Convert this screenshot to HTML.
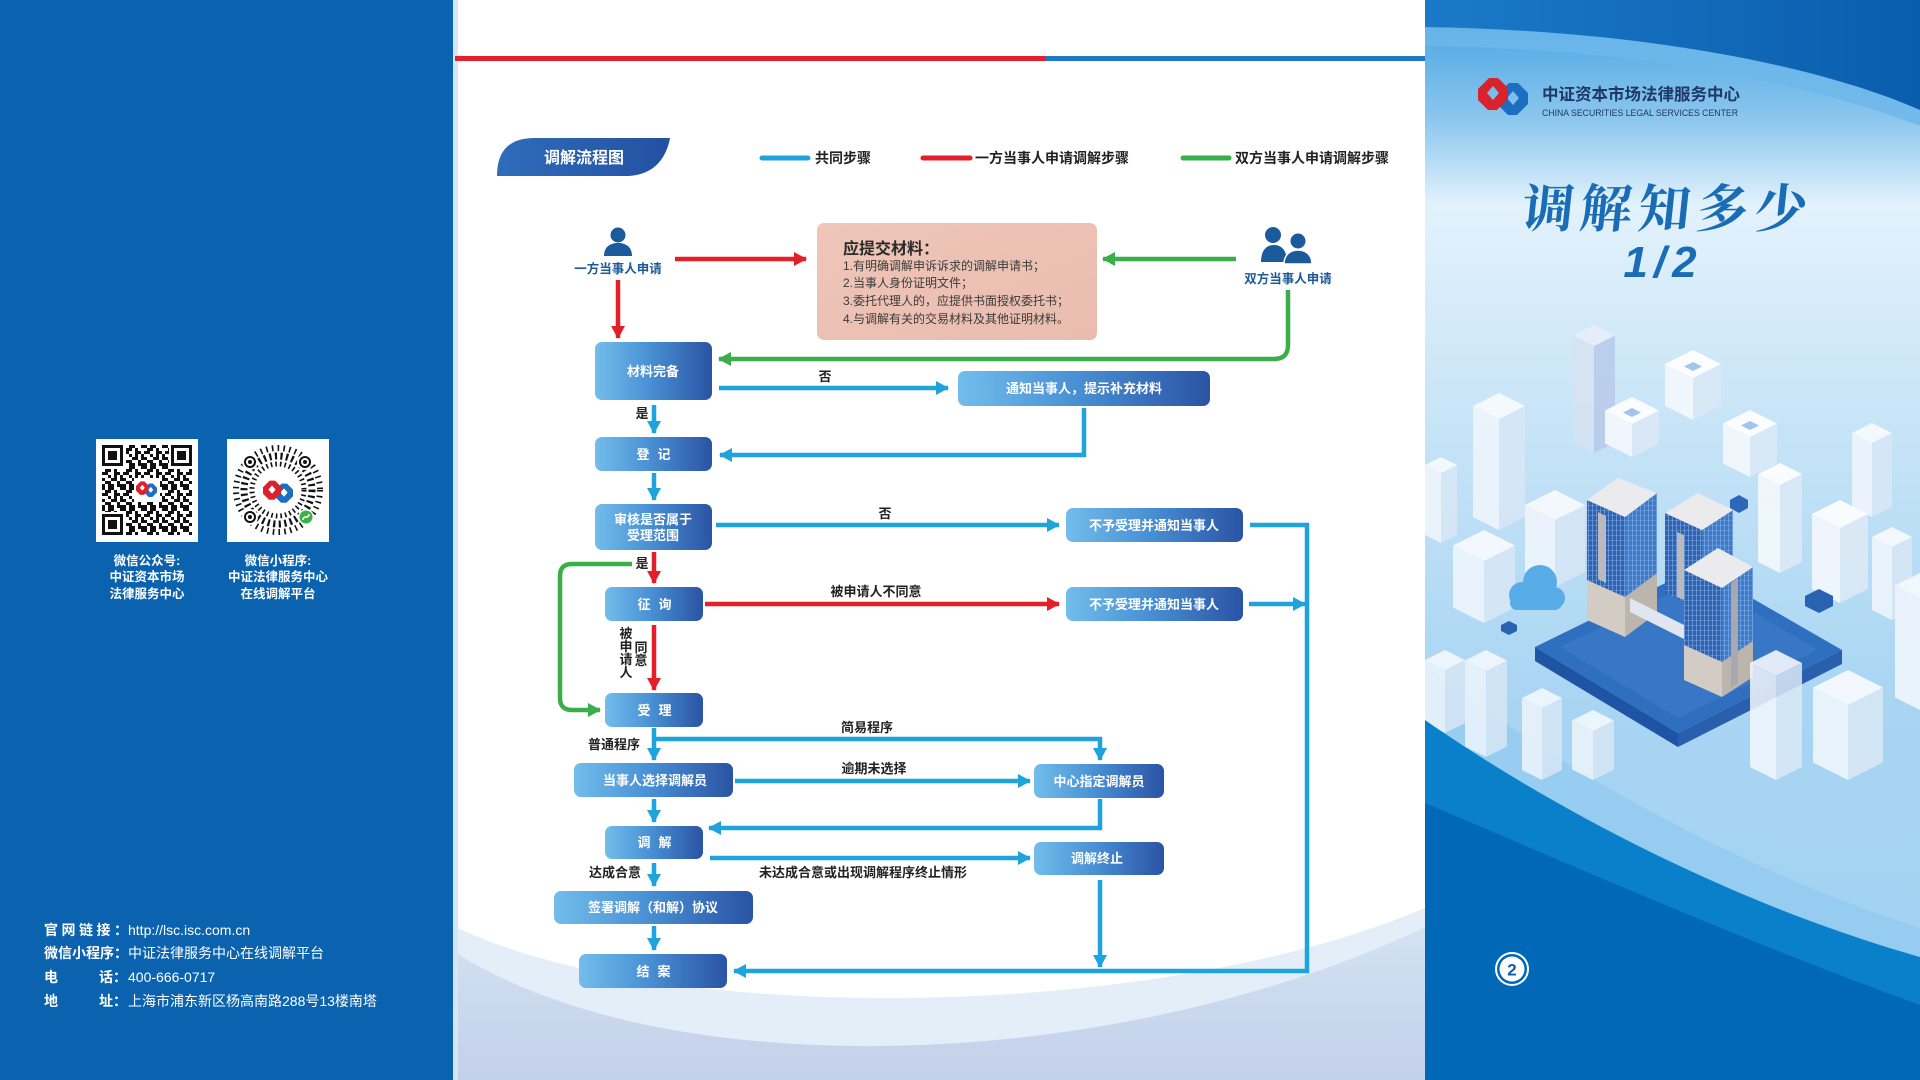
<!DOCTYPE html>
<html lang="zh-CN">
<head>
<meta charset="utf-8">
<title>调解流程图</title>
<style>
html,body{margin:0;padding:0;background:#fff;}
body{width:1920px;height:1080px;overflow:hidden;}
svg{display:block;}
</style>
</head>
<body>
<svg width="1920" height="1080" viewBox="0 0 1920 1080" xmlns="http://www.w3.org/2000/svg" font-family="'Liberation Sans','Noto Sans CJK SC',sans-serif">
<defs>
  <linearGradient id="box" x1="0" y1="0" x2="1" y2="0">
    <stop offset="0" stop-color="#72bdeb"/>
    <stop offset="0.45" stop-color="#4a92d5"/>
    <stop offset="1" stop-color="#2a53a4"/>
  </linearGradient>
  <linearGradient id="tab" x1="0" y1="0" x2="1" y2="0">
    <stop offset="0" stop-color="#2f6cba"/>
    <stop offset="1" stop-color="#2451a2"/>
  </linearGradient>
  <linearGradient id="sky" gradientUnits="userSpaceOnUse" x1="0" y1="0" x2="0" y2="1080">
    <stop offset="0" stop-color="#1a74c4"/>
    <stop offset="0.04" stop-color="#5aaee6"/>
    <stop offset="0.11" stop-color="#8bc6ee"/>
    <stop offset="0.19" stop-color="#e2f2fc"/>
    <stop offset="0.30" stop-color="#d3eaf9"/>
    <stop offset="0.46" stop-color="#bfe0f6"/>
    <stop offset="0.65" stop-color="#a9d5f3"/>
    <stop offset="1" stop-color="#9fd0f1"/>
  </linearGradient>
  <linearGradient id="topdark" x1="0" y1="0" x2="1" y2="0">
    <stop offset="0" stop-color="#1b7ac8"/>
    <stop offset="1" stop-color="#0a5dad"/>
  </linearGradient>
  <linearGradient id="wave2" x1="0" y1="0" x2="0" y2="1">
    <stop offset="0" stop-color="#d3e2f3"/>
    <stop offset="1" stop-color="#c3d0e9"/>
  </linearGradient>
  <linearGradient id="pink" x1="0" y1="0" x2="1" y2="1">
    <stop offset="0" stop-color="#efc6b9"/>
    <stop offset="1" stop-color="#e9bcae"/>
  </linearGradient>
  <pattern id="win" width="4" height="5" patternUnits="userSpaceOnUse">
    <rect x="0" y="0" width="4" height="5" fill="none"/>
    <rect x="0" y="0" width="1" height="5" fill="#8fb6e6" opacity="0.55"/>
    <rect x="0" y="0" width="4" height="1" fill="#8fb6e6" opacity="0.35"/>
  </pattern>
  <marker id="mb" markerUnits="userSpaceOnUse" markerWidth="13" markerHeight="14" viewBox="0 0 13 14" refX="12" refY="7" orient="auto">
    <path d="M0,0 L13,7 L0,14 Z" fill="#1fa3dd"/>
  </marker>
  <marker id="mr" markerUnits="userSpaceOnUse" markerWidth="13" markerHeight="14" viewBox="0 0 13 14" refX="12" refY="7" orient="auto">
    <path d="M0,0 L13,7 L0,14 Z" fill="#e3202a"/>
  </marker>
  <marker id="mg" markerUnits="userSpaceOnUse" markerWidth="13" markerHeight="14" viewBox="0 0 13 14" refX="12" refY="7" orient="auto">
    <path d="M0,0 L13,7 L0,14 Z" fill="#3aae49"/>
  </marker>
  <pattern id="qr" width="21" height="21" patternUnits="userSpaceOnUse" x="102" y="445">
    <path fill="#111" d="M0,0h3v3h-3zM6,0h3v3h-3zM9,0h3v3h-3zM18,0h3v3h-3z
    M3,3h3v3h-3zM6,3h3v3h-3zM12,3h3v3h-3z
    M0,6h3v3h-3zM3,6h3v3h-3zM12,6h3v3h-3zM15,6h3v3h-3z
    M6,9h3v3h-3zM12,9h3v3h-3zM18,9h3v3h-3z
    M0,12h3v3h-3zM9,12h3v3h-3zM12,12h3v3h-3zM18,12h3v3h-3z
    M3,15h3v3h-3zM6,15h3v3h-3zM15,15h3v3h-3z
    M0,18h3v3h-3zM6,18h3v3h-3zM9,18h3v3h-3zM15,18h3v3h-3zM18,18h3v3h-3z"/>
  </pattern>
  <clipPath id="rightclip"><rect x="1425" y="0" width="495" height="1080"/></clipPath>
  <clipPath id="midclip"><rect x="453" y="0" width="972" height="1080"/></clipPath>
</defs>

<!-- LEFT PANEL -->
<rect x="0" y="0" width="453" height="1080" fill="#0b63b0"/>

<!-- QR 1 -->
<rect x="96" y="439" width="102" height="103" fill="#fff"/>
<rect x="102" y="445" width="90" height="90" fill="url(#qr)"/>
<g>
  <rect x="100" y="443" width="26" height="26" fill="#fff"/>
  <rect x="169" y="443" width="26" height="26" fill="#fff"/>
  <rect x="100" y="512" width="26" height="26" fill="#fff"/>
  <rect x="102" y="445" width="21" height="21" fill="#111"/><rect x="105" y="448" width="15" height="15" fill="#fff"/><rect x="108" y="451" width="9" height="9" fill="#111"/>
  <rect x="171" y="445" width="21" height="21" fill="#111"/><rect x="174" y="448" width="15" height="15" fill="#fff"/><rect x="177" y="451" width="9" height="9" fill="#111"/>
  <rect x="102" y="514" width="21" height="21" fill="#111"/><rect x="105" y="517" width="15" height="15" fill="#fff"/><rect x="108" y="520" width="9" height="9" fill="#111"/>
  <rect x="134" y="478" width="26" height="24" fill="#fff"/>
  <g transform="translate(136,481) scale(0.42)">
    <path d="M20,17 L31,6 L40,6 L50,16 L50,27 L39,38 L30,38 L20,28 Z M35,14 L29,21 L35,28 L41,21 Z" fill="#1c6fc0" fill-rule="evenodd"/>
    <path d="M0,12 L11,1 L20,1 L30,11 L30,22 L19,33 L10,33 L0,23 Z M15,9 L9,16 L15,23 L21,16 Z" fill="#d9232c" fill-rule="evenodd"/>
  </g>
</g>

<!-- QR 2 (mini program code) -->
<rect x="227" y="439" width="102" height="103" fill="#fff"/>
<g fill="none" stroke="#111">
  <circle cx="278" cy="490" r="42" stroke-width="6" stroke-dasharray="1.6 4.2"/>
  <circle cx="278" cy="490" r="34" stroke-width="7" stroke-dasharray="2.2 3.4"/>
  <circle cx="278" cy="490" r="26" stroke-width="5" stroke-dasharray="1.6 3"/>
</g>
<g>
  <circle cx="250" cy="462" r="8" fill="#fff"/><circle cx="250" cy="462" r="5" fill="#fff" stroke="#111" stroke-width="2"/><circle cx="250" cy="462" r="2" fill="#111"/>
  <circle cx="305" cy="462" r="8" fill="#fff"/><circle cx="305" cy="462" r="5" fill="#fff" stroke="#111" stroke-width="2"/><circle cx="305" cy="462" r="2" fill="#111"/>
  <circle cx="250" cy="517" r="8" fill="#fff"/><circle cx="250" cy="517" r="5" fill="#fff" stroke="#111" stroke-width="2"/><circle cx="250" cy="517" r="2" fill="#111"/>
  <circle cx="278" cy="490" r="19" fill="#fff"/>
  <g transform="translate(263,480) scale(0.6)">
    <path d="M20,17 L31,6 L40,6 L50,16 L50,27 L39,38 L30,38 L20,28 Z M35,14 L29,21 L35,28 L41,21 Z" fill="#1c6fc0" fill-rule="evenodd"/>
    <path d="M0,12 L11,1 L20,1 L30,11 L30,22 L19,33 L10,33 L0,23 Z M15,9 L9,16 L15,23 L21,16 Z" fill="#d9232c" fill-rule="evenodd"/>
  </g>
  <circle cx="306" cy="517" r="8" fill="#fff"/>
  <circle cx="306" cy="517" r="6.5" fill="#3bb14a"/>
  <path d="M303,520 q0,-3 3,-3 q3,0 3,-3" stroke="#fff" stroke-width="1.5" fill="none"/>
</g>

<g fill="#fff" font-size="12.5" font-weight="bold" text-anchor="middle">
  <text x="147" y="565">微信公众号:</text>
  <text x="147" y="581">中证资本市场</text>
  <text x="147" y="598">法律服务中心</text>
  <text x="278" y="565">微信小程序:</text>
  <text x="278" y="581">中证法律服务中心</text>
  <text x="278" y="598">在线调解平台</text>
</g>

<g fill="#fff" font-size="14">
  <text x="44" y="935" font-weight="bold" textLength="84" lengthAdjust="spacing">官网链接：</text>
  <text x="128" y="935">http://lsc.isc.com.cn</text>
  <text x="44" y="958" font-weight="bold">微信小程序：</text>
  <text x="128" y="958">中证法律服务中心在线调解平台</text>
  <text x="44" y="982" font-weight="bold">电</text>
  <text x="99" y="982" font-weight="bold">话：</text>
  <text x="128" y="982">400-666-0717</text>
  <text x="44" y="1006" font-weight="bold">地</text>
  <text x="99" y="1006" font-weight="bold">址：</text>
  <text x="128" y="1006">上海市浦东新区杨高南路288号13楼南塔</text>
</g>

<!-- MIDDLE PANEL -->
<rect x="453" y="0" width="972" height="1080" fill="#ffffff"/>
<g clip-path="url(#midclip)">
  <path d="M452,925 C650,1025 1150,1025 1425,908 L1425,1080 L452,1080 Z" fill="#e4eef9"/>
  <path d="M452,950 C650,1082 1100,1082 1430,925 L1430,1080 L452,1080 Z" fill="url(#wave2)"/>
</g>
<rect x="453" y="0" width="5" height="1080" fill="#d5e6f4"/>
<rect x="455" y="56" width="591" height="5" fill="#e2212b"/>
<rect x="1046" y="56" width="379" height="5" fill="#1e79c6"/>

<!-- header tab + legend -->
<path d="M497,176 C497,152 508,138 535,138 L670,138 C666,160 652,176 626,176 Z" fill="url(#tab)"/>
<text x="584" y="163" fill="#fff" font-size="16" font-weight="bold" text-anchor="middle">调解流程图</text>

<g stroke-width="5" stroke-linecap="round">
  <line x1="762" y1="158" x2="808" y2="158" stroke="#1fa3dd"/>
  <line x1="923" y1="158" x2="970" y2="158" stroke="#e3202a"/>
  <line x1="1183" y1="158" x2="1229" y2="158" stroke="#3aae49"/>
</g>
<g fill="#222" font-size="14" font-weight="bold">
  <text x="815" y="163">共同步骤</text>
  <text x="975" y="163">一方当事人申请调解步骤</text>
  <text x="1235" y="163">双方当事人申请调解步骤</text>
</g>

<!-- person icons -->
<g fill="#1b5b9c">
  <circle cx="618" cy="235" r="7.5"/>
  <path d="M604,256 C604,247 610,243 618,243 C626,243 632,247 632,256 Z"/>
  <circle cx="1273" cy="235" r="8"/>
  <path d="M1261,262 C1261,251 1266,245 1274,245 C1282,245 1287,251 1287,262 Z"/>
  <circle cx="1298" cy="241" r="7.5"/>
  <path d="M1284,264 C1284,255 1290,250 1298,250 C1306,250 1312,255 1312,264 Z" stroke="#fff" stroke-width="1.5"/>
</g>
<g fill="#1d5a98" font-size="12.5" font-weight="bold" text-anchor="middle">
  <text x="618" y="273">一方当事人申请</text>
  <text x="1288" y="283">双方当事人申请</text>
</g>

<!-- materials box -->
<rect x="817" y="223" width="280" height="117" rx="7" fill="url(#pink)"/>
<text x="843" y="254" font-size="16" font-weight="bold" fill="#2a2a2a">应提交材料：</text>
<g font-size="12" fill="#3a3a3a">
  <text x="843" y="270">1.有明确调解申诉诉求的调解申请书；</text>
  <text x="843" y="287">2.当事人身份证明文件；</text>
  <text x="843" y="305">3.委托代理人的，应提供书面授权委托书；</text>
  <text x="843" y="323">4.与调解有关的交易材料及其他证明材料。</text>
</g>

<!-- connectors -->
<g fill="none" stroke-width="4.5">
  <g stroke="#1fa3dd" marker-end="url(#mb)">
    <path d="M719,388 H948"/>
    <path d="M1084,408 V455 H720"/>
    <path d="M654,405 V433"/>
    <path d="M654,473 V500"/>
    <path d="M716,525 H1059"/>
    <path d="M1250,525 H1307 V971 H734"/>
    <path d="M1249,604 H1305"/>
    <path d="M654,728 V760"/>
    <path d="M654,739 H1100 V760"/>
    <path d="M735,781 H1030"/>
    <path d="M654,799 V822"/>
    <path d="M1100,799 V828 H709"/>
    <path d="M710,858 H1030"/>
    <path d="M654,863 V886"/>
    <path d="M654,926 V950"/>
    <path d="M1100,880 V967"/>
  </g>
  <g stroke="#e3202a" marker-end="url(#mr)">
    <path d="M675,259 H806"/>
    <path d="M618,280 V338"/>
    <path d="M654,552 V583"/>
    <path d="M705,604 H1059"/>
    <path d="M654,625 V690"/>
  </g>
  <g stroke="#3aae49" marker-end="url(#mg)">
    <path d="M1236,259 H1103"/>
    <path d="M1288,290 V345 Q1288,359 1274,359 H719"/>
    <path d="M632,564 H572 Q560,564 560,576 V698 Q560,710 572,710 H600"/>
  </g>
</g>

<!-- boxes -->
<g fill="url(#box)">
  <rect x="595" y="342" width="117" height="58" rx="7"/>
  <rect x="958" y="371" width="252" height="35" rx="7"/>
  <rect x="595" y="437" width="117" height="34" rx="7"/>
  <rect x="595" y="504" width="117" height="46" rx="7"/>
  <rect x="1066" y="508" width="177" height="34" rx="7"/>
  <rect x="605" y="587" width="98" height="34" rx="7"/>
  <rect x="1066" y="587" width="177" height="34" rx="7"/>
  <rect x="605" y="693" width="98" height="34" rx="7"/>
  <rect x="574" y="763" width="159" height="34" rx="7"/>
  <rect x="1034" y="764" width="130" height="34" rx="7"/>
  <rect x="605" y="826" width="98" height="33" rx="7"/>
  <rect x="1034" y="842" width="130" height="33" rx="7"/>
  <rect x="554" y="891" width="199" height="33" rx="7"/>
  <rect x="579" y="954" width="148" height="34" rx="7"/>
</g>
<g fill="#fff" font-size="13" font-weight="bold" text-anchor="middle">
  <text x="653" y="376">材料完备</text>
  <text x="1084" y="393">通知当事人，提示补充材料</text>
  <text x="643" y="459">登</text><text x="664" y="459">记</text>
  <text x="653" y="524">审核是否属于</text>
  <text x="653" y="540">受理范围</text>
  <text x="1154" y="530">不予受理并通知当事人</text>
  <text x="644" y="609">征</text><text x="665" y="609">询</text>
  <text x="1154" y="609">不予受理并通知当事人</text>
  <text x="644" y="715">受</text><text x="665" y="715">理</text>
  <text x="655" y="785">当事人选择调解员</text>
  <text x="1099" y="786">中心指定调解员</text>
  <text x="644" y="847">调</text><text x="665" y="847">解</text>
  <text x="1097" y="863">调解终止</text>
  <text x="653" y="912">签署调解（和解）协议</text>
  <text x="643" y="976">结</text><text x="664" y="976">案</text>
</g>

<!-- flow labels -->
<g fill="#222" font-size="13" font-weight="bold" text-anchor="middle">
  <text x="825" y="381">否</text>
  <text x="642" y="418">是</text>
  <text x="885" y="518">否</text>
  <text x="642" y="568">是</text>
  <text x="876" y="596">被申请人不同意</text>
  <text x="626" y="638">被</text>
  <text x="626" y="651">申</text>
  <text x="626" y="664">请</text>
  <text x="626" y="677">人</text>
  <text x="641" y="652">同</text>
  <text x="641" y="665">意</text>
  <text x="867" y="732">简易程序</text>
  <text x="614" y="749">普通程序</text>
  <text x="874" y="773">逾期未选择</text>
  <text x="863" y="877">未达成合意或出现调解程序终止情形</text>
  <text x="615" y="877">达成合意</text>
</g>

<!-- RIGHT PANEL -->
<g clip-path="url(#rightclip)">
  <rect x="1425" y="0" width="495" height="1080" fill="url(#sky)"/>
  <path d="M1425,27 C1630,30 1810,62 1920,110 V126 C1800,80 1630,48 1425,46 Z" fill="#6db7ea" opacity="0.85"/>
  <path d="M1425,0 H1920 V110 C1810,62 1630,30 1425,27 Z" fill="url(#topdark)"/>

  <!-- background buildings -->
  <g opacity="0.92">
    <g><path d="M1594,453 l-21,-10.5 v-107 l21,10.5z" fill="#d6e3f3"/><path d="M1594,453 l21,-10.5 v-107 l-21,10.5z" fill="#b9cdea"/><path d="M1594,346 l-21,-10.5 l21,-10.5 l21,10.5z" fill="#e6eef9"/></g>
    <g><path d="M1693,420 l-28,-14 v-42 l28,14z" fill="#f3f8fd"/><path d="M1693,420 l28,-14 v-42 l-28,14z" fill="#dbe9f6"/><path d="M1693,378 l-28,-14 l28,-14 l28,14z" fill="#ffffff"/><path d="M1693,371 l-9,-4.5 l9,-4.5 l9,4.5z" fill="#9ec3ea"/></g>
    <g><path d="M1632,457 l-27,-13.5 v-33 l27,13.5z" fill="#f3f8fd"/><path d="M1632,457 l27,-13.5 v-33 l-27,13.5z" fill="#dbe9f6"/><path d="M1632,424 l-27,-13.5 l27,-13.5 l27,13.5z" fill="#ffffff"/><path d="M1632,417 l-9,-4.5 l9,-4.5 l9,4.5z" fill="#9ec3ea"/></g>
    <g><path d="M1750,477 l-27,-13.5 v-40 l27,13.5z" fill="#f3f8fd"/><path d="M1750,477 l27,-13.5 v-40 l-27,13.5z" fill="#dbe9f6"/><path d="M1750,437 l-27,-13.5 l27,-13.5 l27,13.5z" fill="#ffffff"/><path d="M1750,430 l-9,-4.5 l9,-4.5 l9,4.5z" fill="#9ec3ea"/></g>
    <g><path d="M1499,530 l-26,-13 v-111 l26,13z" fill="#eef5fc"/><path d="M1499,530 l26,-13 v-111 l-26,13z" fill="#d7e7f6"/><path d="M1499,419 l-26,-13 l26,-13 l26,13z" fill="#f7fbfe"/></g>
    <g><path d="M1441,543 l-16,-8 v-70 l16,8z" fill="#eef5fc"/><path d="M1441,543 l16,-8 v-70 l-16,8z" fill="#d7e7f6"/><path d="M1441,473 l-16,-8 l16,-8 l16,8z" fill="#f7fbfe"/></g>
    <g><path d="M1484,623 l-31,-15.5 v-62 l31,15.5z" fill="#eef5fc"/><path d="M1484,623 l31,-15.5 v-62 l-31,15.5z" fill="#d7e7f6"/><path d="M1484,561 l-31,-15.5 l31,-15.5 l31,15.5z" fill="#f7fbfe"/></g>
    <g><path d="M1555,587 l-30,-15 v-67 l30,15z" fill="#eef5fc"/><path d="M1555,587 l30,-15 v-67 l-30,15z" fill="#d7e7f6"/><path d="M1555,520 l-30,-15 l30,-15 l30,15z" fill="#f7fbfe"/></g>
    <g><path d="M1780,573 l-22,-11 v-88 l22,11z" fill="#f3f8fd"/><path d="M1780,573 l22,-11 v-88 l-22,11z" fill="#dbe9f6"/><path d="M1780,485 l-22,-11 l22,-11 l22,11z" fill="#ffffff"/></g>
    <g><path d="M1872,517 l-20,-10 v-74 l20,10z" fill="#eef5fc"/><path d="M1872,517 l20,-10 v-74 l-20,10z" fill="#d7e7f6"/><path d="M1872,443 l-20,-10 l20,-10 l20,10z" fill="#f7fbfe"/></g>
    <g><path d="M1840,603 l-28,-14 v-75 l28,14z" fill="#f3f8fd"/><path d="M1840,603 l28,-14 v-75 l-28,14z" fill="#dbe9f6"/><path d="M1840,528 l-28,-14 l28,-14 l28,14z" fill="#ffffff"/></g>
    <g><path d="M1892,620 l-20,-10 v-73 l20,10z" fill="#eef5fc"/><path d="M1892,620 l20,-10 v-73 l-20,10z" fill="#d7e7f6"/><path d="M1892,547 l-20,-10 l20,-10 l20,10z" fill="#f7fbfe"/></g>
    <g><path d="M1920,710 l-25,-12.5 v-112 l25,12.5z" fill="#eef5fc"/><path d="M1920,710 l25,-12.5 v-112 l-25,12.5z" fill="#d7e7f6"/><path d="M1920,598 l-25,-12.5 l25,-12.5 l25,12.5z" fill="#f7fbfe"/></g>
  </g>

  <!-- platform -->
  <polygon points="1535,647 1678,733 1678,747 1535,661" fill="#1f54a4"/>
  <polygon points="1678,733 1842,650 1842,664 1678,747" fill="#2a5fae"/>
  <polygon points="1535,647 1698,567 1842,650 1678,733" fill="#2f6fc0"/>
  <polygon points="1560,647 1698,580 1818,650 1678,718" fill="#3777c6"/>

  <!-- towers -->
  <polygon points="1587,500 1625,517 1625,637 1587,620" fill="#2e62b3"/>
  <polygon points="1625,517 1657,493 1657,613 1625,637" fill="#3d7ac9"/>
  <polygon points="1587,500 1625,517 1625,597 1587,580" fill="url(#win)"/>
  <polygon points="1625,517 1657,493 1657,573 1625,597" fill="url(#win)"/>
  <polygon points="1587,580 1625,597 1625,637 1587,620" fill="#d2ccc5"/>
  <polygon points="1625,597 1657,573 1657,613 1625,637" fill="#bcb5ad"/>
  <polygon points="1598,512 1606,516 1606,583 1598,579" fill="#b9b9be"/>
  <polygon points="1587,500 1618,478 1657,493 1625,517" fill="#ebebee"/>

  <polygon points="1665,513 1702,530 1702,610 1665,593" fill="#2e62b3"/>
  <polygon points="1702,530 1733,510 1733,590 1702,610" fill="#3d7ac9"/>
  <polygon points="1665,513 1702,530 1702,610 1665,593" fill="url(#win)"/>
  <polygon points="1702,530 1733,510 1733,590 1702,610" fill="url(#win)"/>
  <polygon points="1677,532 1684,535 1684,600 1677,597" fill="#b9b9be"/>
  <polygon points="1665,513 1698,493 1733,510 1702,530" fill="#ebebee"/>

  <polygon points="1630,598 1690,628 1690,642 1630,612" fill="#dfe6f0"/>

  <polygon points="1684,570 1722,588 1722,697 1684,680" fill="#2e62b3"/>
  <polygon points="1722,588 1753,567 1753,677 1722,697" fill="#3d7ac9"/>
  <polygon points="1684,570 1722,588 1722,662 1684,645" fill="url(#win)"/>
  <polygon points="1722,588 1753,567 1753,641 1722,662" fill="url(#win)"/>
  <polygon points="1684,645 1722,662 1722,697 1684,680" fill="#d2ccc5"/>
  <polygon points="1722,662 1753,641 1753,677 1722,697" fill="#bcb5ad"/>
  <polygon points="1731,583 1738,578 1738,683 1731,688" fill="#a8a8ae"/>
  <polygon points="1684,570 1718,548 1753,567 1722,588" fill="#ebebee"/>

  <!-- cloud & cubes -->
  <g fill="#58ade6">
    <circle cx="1522" cy="595" r="13"/>
    <circle cx="1540" cy="582" r="17"/>
    <circle cx="1554" cy="598" r="11"/>
    <rect x="1510" y="596" width="52" height="14" rx="7"/>
  </g>
  <polygon points="1730,500 1739,495 1748,500 1748,508 1739,513 1730,508" fill="#2d68b8"/>
  <polygon points="1805,596 1819,589 1833,596 1833,606 1819,613 1805,606" fill="#2a62b2"/>
  <polygon points="1501,625 1509,621 1517,625 1517,631 1509,635 1501,631" fill="#2a62b2"/>

  <!-- bottom light band -->
  <path d="M1425,665 C1560,770 1740,870 1920,928 V1080 H1425 Z" fill="#93cbf0" opacity="0.8"/>

  <!-- foreground buildings -->
  <g opacity="0.85">
    <g><path d="M1776,780 l-26,-13 v-104 l26,13z" fill="#f3f8fd"/><path d="M1776,780 l26,-13 v-104 l-26,13z" fill="#dbe9f6"/><path d="M1776,676 l-26,-13 l26,-13 l26,13z" fill="#ffffff"/></g>
    <g><path d="M1848,780 l-35,-17.5 v-75 l35,17.5z" fill="#f3f8fd"/><path d="M1848,780 l35,-17.5 v-75 l-35,17.5z" fill="#dbe9f6"/><path d="M1848,705 l-35,-17.5 l35,-17.5 l35,17.5z" fill="#ffffff"/></g>
    <g><path d="M1486,757 l-21,-10.5 v-86 l21,10.5z" fill="#eef5fc"/><path d="M1486,757 l21,-10.5 v-86 l-21,10.5z" fill="#d7e7f6"/><path d="M1486,671 l-21,-10.5 l21,-10.5 l21,10.5z" fill="#f7fbfe"/></g>
    <g><path d="M1542,780 l-20,-10 v-72 l20,10z" fill="#eef5fc"/><path d="M1542,780 l20,-10 v-72 l-20,10z" fill="#d7e7f6"/><path d="M1542,708 l-20,-10 l20,-10 l20,10z" fill="#f7fbfe"/></g>
    <g><path d="M1593,780 l-21,-10.5 v-49 l21,10.5z" fill="#eef5fc"/><path d="M1593,780 l21,-10.5 v-49 l-21,10.5z" fill="#d7e7f6"/><path d="M1593,731 l-21,-10.5 l21,-10.5 l21,10.5z" fill="#f7fbfe"/></g>
    <g><path d="M1445,733 l-20,-10 v-63 l20,10z" fill="#eef5fc"/><path d="M1445,733 l20,-10 v-63 l-20,10z" fill="#d7e7f6"/><path d="M1445,670 l-20,-10 l20,-10 l20,10z" fill="#f7fbfe"/></g>
  </g>

  <!-- bottom blue bands -->
  <path d="M1425,720 C1540,800 1720,900 1920,957 V1080 H1425 Z" fill="#0a80cb"/>
  <path d="M1425,803 C1560,860 1740,940 1920,1005 V1080 H1425 Z" fill="#0068b6"/>
</g>

<!-- logo + org name -->
<g transform="translate(1478,77)">
  <path d="M20,17 L31,6 L40,6 L50,16 L50,27 L39,38 L30,38 L20,28 Z M35,14 L29,21 L35,28 L41,21 Z" fill="#1c6fc0" fill-rule="evenodd"/>
  <path d="M0,12 L11,1 L20,1 L30,11 L30,22 L19,33 L10,33 L0,23 Z M15,9 L9,16 L15,23 L21,16 Z" fill="#d9232c" fill-rule="evenodd"/>
</g>
<text x="1542" y="100" font-size="16.5" font-weight="bold" fill="#1f3866">中证资本市场法律服务中心</text>
<text x="1542" y="116" font-size="9" fill="#1f3866" textLength="196" lengthAdjust="spacingAndGlyphs">CHINA SECURITIES LEGAL SERVICES CENTER</text>

<!-- title -->
<text x="1520" y="227" font-family="'Noto Serif CJK SC','Noto Sans CJK SC',serif" font-size="52" font-weight="bold" fill="#1a6db5" textLength="285" lengthAdjust="spacing" transform="skewX(-6) translate(24,0)">调解知多少</text>
<text x="1663" y="277" font-family="'Liberation Sans',sans-serif" font-size="44" font-weight="bold" font-style="italic" fill="#1a6db5" text-anchor="middle" letter-spacing="6">1/2</text>

<!-- page number -->
<circle cx="1512" cy="969" r="16" fill="none" stroke="#fff" stroke-width="2"/>
<circle cx="1512" cy="969" r="12.5" fill="#fff"/>
<text x="1512" y="975.5" font-size="17" font-weight="bold" fill="#0d5fae" text-anchor="middle">2</text>
</svg>
</body>
</html>
